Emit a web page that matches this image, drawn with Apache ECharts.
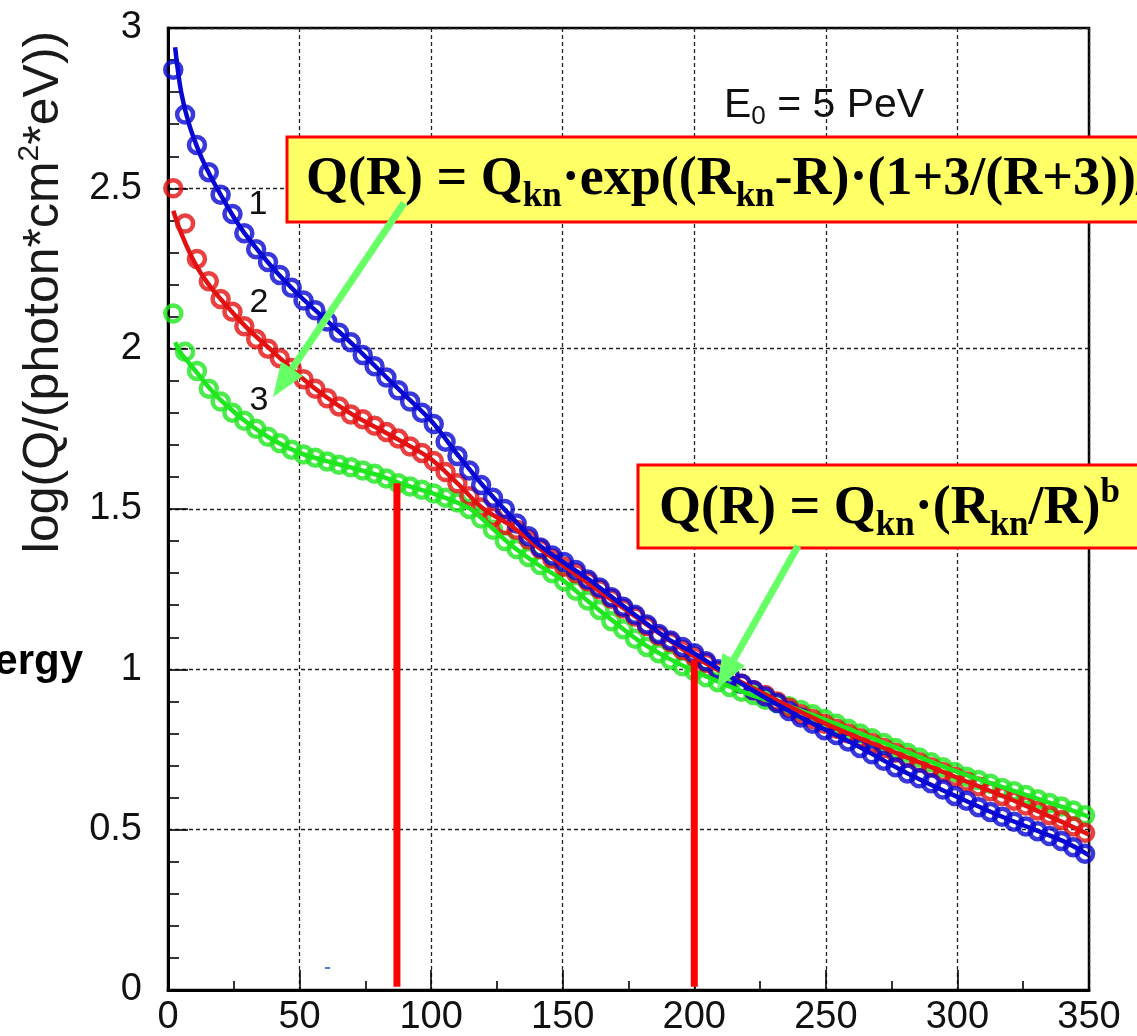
<!DOCTYPE html>
<html>
<head>
<meta charset="utf-8">
<script src="https://cdn.jsdelivr.net/npm/echarts@6/dist/echarts.min.js"></script>
<style>
  html, body { margin: 0; padding: 0; background: #fff; }
  #chart { width: 1137px; height: 1036px; }
</style>
</head>
<body>
<div id="chart"></div>
<script>
// Lateral distance R (m) of the measured points
const radius = [
  2, 6.5, 11, 15.5, 20, 24.5, 29, 33.5, 38, 42.5,
  47, 51.5, 56, 60.5, 65, 69.5, 74, 78.5, 83, 87.5,
  92, 96.5, 101, 105.5, 110, 114.5, 119, 123.5, 128, 132.5,
  137, 141.5, 146, 150.5, 155, 159.5, 164, 168.5, 173, 177.5,
  182, 186.5, 191, 195.5, 200, 204.5, 209, 213.5, 218, 222.5,
  227, 231.5, 236, 240.5, 245, 249.5, 254, 258.5, 263, 267.5,
  272, 276.5, 281, 285.5, 290, 294.5, 299, 303.5, 308, 312.5,
  317, 321.5, 326, 330.5, 335, 339.5, 344, 348.5
];

// log Q for curve 1 (blue)
const curve1 = [
  2.87, 2.73, 2.635, 2.55, 2.48, 2.42, 2.36, 2.31, 2.27, 2.23,
  2.19, 2.15, 2.12, 2.085, 2.05, 2.02, 1.98, 1.945, 1.91, 1.87,
  1.835, 1.80, 1.765, 1.71, 1.665, 1.62, 1.575, 1.535, 1.50, 1.455,
  1.415, 1.38, 1.355, 1.335, 1.31, 1.28, 1.255, 1.225, 1.195, 1.17,
  1.14, 1.11, 1.09, 1.07, 1.05, 1.025, 1.0, 0.98, 0.955, 0.935,
  0.915, 0.895, 0.87, 0.85, 0.83, 0.81, 0.795, 0.775, 0.755, 0.735,
  0.715, 0.695, 0.675, 0.66, 0.645, 0.625, 0.605, 0.59, 0.57, 0.555,
  0.54, 0.525, 0.51, 0.495, 0.48, 0.465, 0.445, 0.425
];

// log Q for curve 2 (red)
const curve2 = [
  2.50, 2.39, 2.28, 2.21, 2.155, 2.115, 2.07, 2.03, 2.00, 1.97,
  1.94, 1.905, 1.875, 1.845, 1.82, 1.795, 1.78, 1.76, 1.74, 1.72,
  1.695, 1.675, 1.65, 1.615, 1.58, 1.54, 1.505, 1.475, 1.45, 1.435,
  1.405, 1.375, 1.345, 1.32, 1.30, 1.275, 1.25, 1.22, 1.19, 1.165,
  1.135, 1.105, 1.085, 1.06, 1.04, 1.02, 0.995, 0.975, 0.955, 0.935,
  0.92, 0.90, 0.88, 0.86, 0.845, 0.83, 0.815, 0.80, 0.785, 0.77,
  0.755, 0.74, 0.725, 0.71, 0.695, 0.68, 0.665, 0.65, 0.635, 0.62,
  0.605, 0.59, 0.575, 0.56, 0.545, 0.53, 0.51, 0.49
];

// log Q for curve 3 (green)
const curve3 = [
  2.11, 1.99, 1.93, 1.875, 1.835, 1.80, 1.775, 1.75, 1.725, 1.705,
  1.685, 1.67, 1.66, 1.648, 1.638, 1.63, 1.62, 1.61, 1.595, 1.58,
  1.57, 1.56, 1.548, 1.535, 1.52, 1.50, 1.47, 1.435, 1.40, 1.375,
  1.35, 1.325, 1.30, 1.275, 1.245, 1.215, 1.185, 1.15, 1.125, 1.095,
  1.07, 1.05, 1.03, 1.01, 0.995, 0.975, 0.96, 0.945, 0.93, 0.92,
  0.905, 0.895, 0.885, 0.873, 0.86, 0.845, 0.83, 0.815, 0.80, 0.785,
  0.77, 0.755, 0.74, 0.725, 0.71, 0.695, 0.68, 0.665, 0.655, 0.643,
  0.63, 0.62, 0.608, 0.595, 0.583, 0.572, 0.56, 0.545
];

// Approximating functions drawn through each set of points
const fitR1 = [2.7, 5, 8, 12, 16, 20, 25, 30, 40, 50, 60, 70, 80, 90, 100, 110, 120, 130, 140, 150,
               160, 175, 190, 200, 220, 240, 260, 280, 300, 320, 340, 350];
const fit1  = [2.94, 2.80, 2.70, 2.61, 2.54, 2.48, 2.41, 2.35, 2.25, 2.165, 2.09, 2.015, 1.935, 1.855, 1.775,
               1.67, 1.57, 1.48, 1.395, 1.335, 1.28, 1.185, 1.095, 1.05, 0.945, 0.852, 0.77, 0.68, 0.602,
               0.53, 0.465, 0.42];
const fitR2 = [2, 5, 10, 15, 20, 30, 40, 50, 60, 70, 80, 90, 100, 110, 120, 130, 140, 150, 175, 200,
               225, 250, 275, 300, 325, 350];
const fit2  = [2.43, 2.36, 2.27, 2.205, 2.155, 2.065, 1.99, 1.915, 1.85, 1.795, 1.75, 1.705, 1.655, 1.58,
               1.50, 1.45, 1.385, 1.325, 1.18, 1.04, 0.93, 0.83, 0.745, 0.662, 0.578, 0.485];
const fitR3 = [2.7, 5, 8, 12, 16, 20, 30, 40, 50, 60, 70, 80, 90, 100, 110, 115, 120, 130, 140, 150,
               160, 170, 180, 190, 200, 220, 240, 260, 280, 300, 320, 340, 350];
const fit3  = [2.02, 1.985, 1.955, 1.915, 1.875, 1.84, 1.77, 1.715, 1.675, 1.65, 1.628, 1.605, 1.575, 1.55,
               1.52, 1.50, 1.465, 1.39, 1.33, 1.278, 1.21, 1.145, 1.083, 1.035, 0.995, 0.925, 0.873, 0.81,
               0.745, 0.68, 0.625, 0.57, 0.54];

// Knee positions R_kn and the level where each marker stops
const kneeRadius = [87, 200];
const kneeLevel  = [1.58, 1.03];

const BLUE = '#0808d2', RED = '#e31212', GREEN = '#1fe61f', ARROW = '#66ff66';
const SANS = '"Liberation Sans", Arial, Helvetica, sans-serif';
const SERIF = '"Liberation Serif", "Times New Roman", serif';

const zip = (xs, ys) => xs.map((x, i) => [x, ys[i]]);

function pointSeries(name, xs, ys, color) {
  return {
    name, type: 'scatter', data: zip(xs, ys), symbol: 'circle', symbolSize: 16,
    itemStyle: { color: 'rgba(0,0,0,0)', borderColor: color, borderWidth: 4.5 },
    silent: true
  };
}
function fitSeries(name, xs, ys, color) {
  return {
    name, type: 'line', data: zip(xs, ys), smooth: 0.35, showSymbol: false, symbol: 'none',
    lineStyle: { color, width: 4.5 }, silent: true
  };
}
const kneeSeries = kneeRadius.map((r, i) => ({
  name: 'knee' + i, type: 'line', symbol: 'none', silent: true, z: 5,
  data: [[r, 0.01], [r, kneeLevel[i]]],
  lineStyle: { color: '#ff0000', width: 7 }
}));

// Arrow from (x1,y1) to the tip (x2,y2)
function arrow(x1, y1, x2, y2) {
  const dx = x2 - x1, dy = y2 - y1, len = Math.hypot(dx, dy);
  const ux = dx / len, uy = dy / len, head = 34, half = 13;
  const bx = x2 - ux * head, by = y2 - uy * head;
  return [
    { type: 'line', shape: { x1, y1, x2: bx, y2: by }, style: { stroke: ARROW, lineWidth: 7 }, z: 30 },
    { type: 'polygon', shape: { points: [[x2, y2], [bx - uy * half, by + ux * half], [bx + uy * half, by - ux * half]] },
      style: { fill: ARROW }, z: 30 }
  ];
}

const formulaRich = {
  a: { fontSize: 54, fontFamily: SERIF, fontWeight: 'bold', lineHeight: 68, verticalAlign: 'middle', fill: '#000' },
  s: { fontSize: 35, fontFamily: SERIF, fontWeight: 'bold', lineHeight: 35, verticalAlign: 'bottom', fill: '#000' },
  p: { fontSize: 35, fontFamily: SERIF, fontWeight: 'bold', lineHeight: 35, verticalAlign: 'top', fill: '#000' }
};

const chart = echarts.init(document.getElementById('chart'), null, { renderer: 'canvas' });
chart.setOption({
  animation: false,
  backgroundColor: '#ffffff',
  grid: {
    left: 168, right: 48, top: 28, bottom: 46, containLabel: false, outerBoundsMode: 'none',
    show: true, borderColor: '#000', borderWidth: 2.5, backgroundColor: 'rgba(0,0,0,0)'
  },
  xAxis: {
    type: 'value', min: 0, max: 350, interval: 50,
    axisLine: { show: true, onZero: false, lineStyle: { color: '#000', width: 3 } },
    axisTick: { show: true, inside: true, length: 20, lineStyle: { color: '#000', width: 1.6 } },
    minorTick: { show: true, splitNumber: 2, length: 9, lineStyle: { color: '#000', width: 1.6 } },
    splitLine: { show: true, lineStyle: { color: '#222', width: 1.3, type: [4, 3] } },
    axisLabel: { fontSize: 38, color: '#111', margin: 9, fontFamily: SANS }
  },
  yAxis: {
    type: 'value', min: 0, max: 3, interval: 0.5,
    axisLine: { show: true, onZero: false, lineStyle: { color: '#000', width: 3 } },
    axisTick: { show: true, inside: true, length: 20, lineStyle: { color: '#000', width: 1.6 } },
    minorTick: { show: true, splitNumber: 5, length: 11, lineStyle: { color: '#000', width: 1.6 } },
    splitLine: { show: true, lineStyle: { color: '#222', width: 1.3, type: [4, 3] } },
    axisLabel: { fontSize: 38, color: '#111', margin: 26, fontFamily: SANS }
  },
  series: [
    fitSeries('fit3', fitR3, fit3, GREEN),
    pointSeries('3', radius, curve3, GREEN),
    fitSeries('fit2', fitR2, fit2, RED),
    pointSeries('2', radius, curve2, RED),
    fitSeries('fit1', fitR1, fit1, BLUE),
    pointSeries('1', radius, curve1, BLUE),
    ...kneeSeries
  ],
  graphic: [
    // vertical axis title
    { type: 'text', x: 44, y: 292, rotation: Math.PI / 2, z: 20,
      style: { text: '{t|log(Q/(photon*cm}{u|2}{t|*eV))}', textAlign: 'center', textVerticalAlign: 'middle',
        rich: {
          t: { fontSize: 50, fontFamily: SANS, lineHeight: 58, verticalAlign: 'middle', fill: '#1a1a1a' },
          u: { fontSize: 30, fontFamily: SANS, lineHeight: 30, verticalAlign: 'top', fill: '#1a1a1a' }
        } } },
    // word fragment at the left edge
    { type: 'text', x: 83, y: 662, z: 20,
      style: { text: 'ergy', textAlign: 'right', textVerticalAlign: 'middle',
        fontSize: 42, fontWeight: 'bold', fontFamily: SANS, fill: '#000' } },
    // primary energy
    { type: 'text', x: 724, y: 106, z: 20,
      style: { text: '{n|E}{s|0}{n| = 5 PeV}', textAlign: 'left', textVerticalAlign: 'middle',
        rich: {
          n: { fontSize: 41, fontFamily: SANS, lineHeight: 48, verticalAlign: 'middle', fill: '#111' },
          s: { fontSize: 26, fontFamily: SANS, lineHeight: 26, verticalAlign: 'bottom', fill: '#111' }
        } } },
    // curve numbers
    { type: 'text', x: 258, y: 205, z: 20, style: { text: '1', textAlign: 'center', textVerticalAlign: 'middle', fontSize: 34, fontFamily: SANS, fill: '#111' } },
    { type: 'text', x: 259, y: 303, z: 20, style: { text: '2', textAlign: 'center', textVerticalAlign: 'middle', fontSize: 34, fontFamily: SANS, fill: '#111' } },
    { type: 'text', x: 259, y: 401, z: 20, style: { text: '3', textAlign: 'center', textVerticalAlign: 'middle', fontSize: 34, fontFamily: SANS, fill: '#111' } },
    // formula boxes
    { type: 'rect', shape: { x: 287, y: 137, width: 900, height: 85 }, z: 25,
      style: { fill: '#ffff66', stroke: '#ff0000', lineWidth: 3 } },
    { type: 'text', x: 306, y: 180, z: 26,
      style: { text: '{a|Q(R) = Q}{s|kn}{a|·exp((R}{s|kn}{a|-R)·(1+3/(R+3))/}', textAlign: 'left',
        textVerticalAlign: 'middle', rich: formulaRich } },
    { type: 'rect', shape: { x: 638, y: 465, width: 600, height: 83 }, z: 25,
      style: { fill: '#ffff66', stroke: '#ff0000', lineWidth: 3 } },
    { type: 'text', x: 659, y: 509, z: 26,
      style: { text: '{a|Q(R) = Q}{s|kn}{a|·(R}{s|kn}{a|/R)}{p|b}', textAlign: 'left',
        textVerticalAlign: 'middle', rich: formulaRich } },
    // pointer arrows
    ...arrow(404, 203, 273, 397),
    ...arrow(798, 546, 717, 689),
    // small blue dash near the bottom
    { type: 'rect', shape: { x: 325, y: 967, width: 5, height: 2 }, z: 20, style: { fill: '#4a7fd6' } }
  ]
});
</script>
</body>
</html>
